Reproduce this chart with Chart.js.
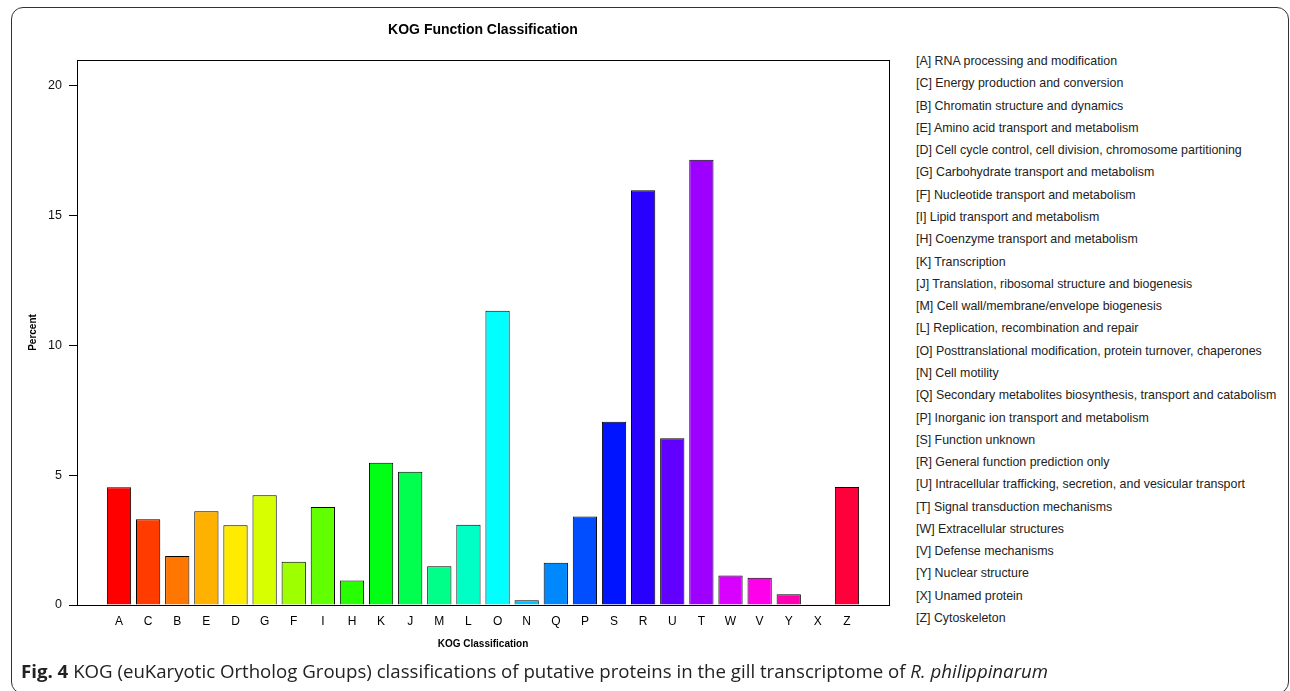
<!DOCTYPE html>
<html>
<head>
<meta charset="utf-8">
<script src="https://cdn.jsdelivr.net/npm/chart.js@4"></script>
<style>
  html, body { margin: 0; padding: 0; background: #fff; }
  body { width: 1290px; height: 691px; position: relative; overflow: hidden; font-family: Arial, "Liberation Sans", sans-serif; }
  #frame { position: absolute; left: 11px; top: 7px; width: 1278px; height: 687px; border: 1.5px solid #333; border-radius: 12px; box-sizing: border-box; }
  #wrap { position: absolute; left: 0; top: 0; width: 900px; height: 691px; }
  #legend { position: absolute; left: 916px; top: 50px; font-family: Arial, "Liberation Sans", sans-serif; font-size: 12.4px; line-height: 22.28px; color: #222; white-space: nowrap; }
  #caption { position: absolute; left: 21px; top: 659px; font-family: "Open Sans", "Liberation Sans", sans-serif; font-size: 18px; line-height: 24px; color: #222; white-space: nowrap; transform-origin: 0 0; display: inline-block; }
  #caption b { font-weight: 700; }
</style>
</head>
<body>
<div id="frame"></div>
<div id="wrap"><canvas id="c"></canvas></div>
<div id="legend"></div>
<div id="caption"><b>Fig. 4</b> KOG (euKaryotic Ortholog Groups) classifications of putative proteins in the gill transcriptome of <i>R. philippinarum</i></div>
<script>
// ---- data ----
const categories = ["A","C","B","E","D","G","F","I","H","K","J","M","L","O","N","Q","P","S","R","U","T","W","V","Y","X","Z"];
const percents = [4.54,3.30,1.89,3.61,3.07,4.23,1.67,3.78,0.94,5.48,5.13,1.49,3.09,11.34,0.18,1.63,3.41,7.06,15.98,6.43,17.16,1.14,1.05,0.41,0.03,4.55];
const descriptions = [
  "[A] RNA processing and modification",
  "[C] Energy production and conversion",
  "[B] Chromatin structure and dynamics",
  "[E] Amino acid transport and metabolism",
  "[D] Cell cycle control, cell division, chromosome partitioning",
  "[G] Carbohydrate transport and metabolism",
  "[F] Nucleotide transport and metabolism",
  "[I] Lipid transport and metabolism",
  "[H] Coenzyme transport and metabolism",
  "[K] Transcription",
  "[J] Translation, ribosomal structure and biogenesis",
  "[M] Cell wall/membrane/envelope biogenesis",
  "[L] Replication, recombination and repair",
  "[O] Posttranslational modification, protein turnover, chaperones",
  "[N] Cell motility",
  "[Q] Secondary metabolites biosynthesis, transport and catabolism",
  "[P] Inorganic ion transport and metabolism",
  "[S] Function unknown",
  "[R] General function prediction only",
  "[U] Intracellular trafficking, secretion, and vesicular transport",
  "[T] Signal transduction mechanisms",
  "[W] Extracellular structures",
  "[V] Defense mechanisms",
  "[Y] Nuclear structure",
  "[X] Unamed protein",
  "[Z] Cytoskeleton"
];
const yTicks = [0, 5, 10, 15, 20];
const barColors = ["#FF0000","#FF3B00","#FF7600","#FFB100","#FFEB00","#D8FF00","#9DFF00","#62FF00","#27FF00","#00FF14","#00FF4E","#00FF89","#00FFC4","#00FFFF","#00C4FF","#0089FF","#004EFF","#0014FF","#2700FF","#6200FF","#9D00FF","#D800FF","#FF00EB","#FF00B1","#FF0076","#FF003B"];

// legend text
const leg = document.getElementById('legend');
descriptions.forEach(d => { const div = document.createElement('div'); div.textContent = d; leg.appendChild(div); });

// caption fit
const cap = document.getElementById('caption');
const cw = cap.getBoundingClientRect().width;
cap.style.transform = 'scaleX(' + (1027 / cw) + ')';

const FONT = 'Arial, "Liberation Sans", sans-serif';

const framePlugin = {
  id: 'frame',
  afterDatasetsDraw(chart) {
    const a = chart.chartArea, ctx = chart.ctx;
    ctx.save();
    ctx.strokeStyle = '#000';
    ctx.lineWidth = 1;
    ctx.strokeRect(Math.round(a.left) + 0.5, Math.round(a.top) + 0.5, Math.round(a.right - a.left), Math.round(a.bottom - a.top));
    ctx.restore();
  }
};

new Chart(document.getElementById('c'), {
  type: 'bar',
  data: {
    datasets: [{
      data: categories.map((c, i) => ({ x: i, y: percents[i] })),
      backgroundColor: barColors,
      borderColor: '#000',
      borderWidth: 1,
      borderSkipped: 'start',
      barPercentage: 0.8333,
      categoryPercentage: 1
    }]
  },
  options: {
    responsive: true,
    maintainAspectRatio: false,
    animation: false,
    layout: { padding: { left: 0, right: 11, top: 0, bottom: 36 } },
    plugins: {
      legend: { display: false },
      tooltip: { enabled: false },
      title: {
        display: true,
        fullSize: false,
        text: 'KOG Function Classification',
        color: '#000',
        font: { family: FONT, size: 14, weight: 'bold' },
        padding: { top: 21.6, bottom: 21.6 }
      }
    },
    scales: {
      x: {
        type: 'linear',
        offset: false,
        min: -1.443,
        max: 26.443,
        afterBuildTicks(scale) { scale.ticks = categories.map((c, i) => ({ value: i })); },
        afterFit(scale) { scale.height = 50; },
        ticks: {
          autoSkip: false, maxRotation: 0, minRotation: 0,
          callback: (v) => categories[v],
          color: '#000',
          font: { family: FONT, size: 12 },
          padding: 9
        },
        grid: { display: false, drawTicks: false, offset: false },
        border: { display: false },
        title: {
          display: true,
          text: 'KOG Classification',
          color: '#000',
          font: { family: FONT, size: 10, weight: 'bold' },
          padding: { top: 4, bottom: 5 }
        }
      },
      y: {
        min: 0,
        max: 21,
        afterBuildTicks(scale) { scale.ticks = yTicks.map(v => ({ value: v })); },
        afterFit(scale) { scale.width = 77; },
        ticks: {
          color: '#111',
          font: { family: FONT, size: 12.5 },
          padding: 7
        },
        grid: { display: true, drawOnChartArea: false, drawTicks: true, tickLength: 8, color: '#000', lineWidth: 1 },
        border: { display: false },
        title: {
          display: true,
          text: 'Percent',
          color: '#000',
          font: { family: FONT, size: 10, weight: 'bold' },
          padding: { top: 27, bottom: 0 }
        }
      }
    }
  },
  plugins: [framePlugin]
});
</script>
</body>
</html>
